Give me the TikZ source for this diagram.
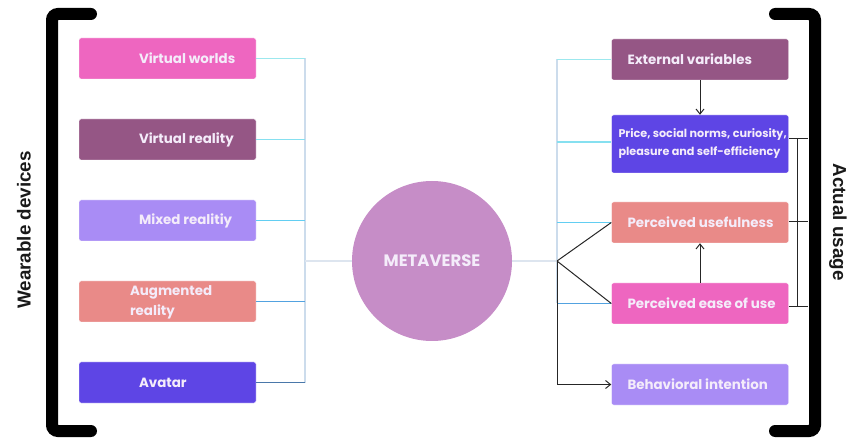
\documentclass[tikz,border=0pt]{standalone}
\usepackage{fontspec}
\setmainfont{Liberation Sans}
\newfontfamily\boxfont{Poppins}
\usetikzlibrary{arrows.meta}
\definecolor{cpink}{HTML}{EE66C0}
\definecolor{cmauve}{HTML}{955685}
\definecolor{clav}{HTML}{A98CF5}
\definecolor{csalmon}{HTML}{E98A88}
\definecolor{cindigo}{HTML}{5E45E5}
\definecolor{ccircle}{HTML}{C68DC7}
\definecolor{ctext}{HTML}{F4ECFA}
\definecolor{lc1}{HTML}{9CE8EE}
\definecolor{lc2}{HTML}{86E0F0}
\definecolor{lc3}{HTML}{62CEF2}
\definecolor{lc4}{HTML}{52A2E0}
\definecolor{lc5}{HTML}{4A78AA}
\definecolor{lvert}{HTML}{CCDCEC}
\definecolor{lhor}{HTML}{DDE5EF}
\tikzset{
  box/.style={draw=white, line width=0.4pt, rounded corners=2pt, minimum width=177pt, minimum height=41pt, inner sep=0pt},
  txt/.style={anchor=west, text=ctext, font=\boxfont\bfseries\fontsize{13.4}{20}\selectfont, inner sep=0pt, align=left},
  bracket/.style={line width=12pt, rounded corners=6pt, line cap=round},
  conn/.style={line width=1.8pt},
  blk/.style={draw=black!85, line width=1pt},
  arr/.style={blk, -{Straight Barb[length=5pt,width=8pt]}},
  side/.style={font=\bfseries\fontsize{18.8}{22}\selectfont, text=black!90}
}
\begin{document}
\begin{tikzpicture}[x=1pt,y=-1pt]
\useasboundingbox (0,0) rectangle (857,438);
% brackets
\draw[bracket] (91,14) -- (52,14) -- (52,431) -- (91,431);
\draw[bracket] (775,14) -- (815,14) -- (815,431) -- (775,431);
\node[side, rotate=90] (lw) at (24,230) {Wearable devices};
\node[side, rotate=-90] (la) at (838,222) {Actual usage};
% left boxes
\node[box, fill=cpink]   (vw) at (167.5,58.5)  {};
\node[box, fill=cmauve]  (vr) at (167.5,139.5) {};
\node[box, fill=clav]    (mr) at (167.5,220.5) {};
\node[box, fill=csalmon] (ar) at (167.5,301.5) {};
\node[box, fill=cindigo] (av) at (167.5,382.5) {};
\node[txt] at ([xshift=60pt]vw.west) {Virtual worlds};
\node[txt] at ([xshift=60pt]vr.west) {Virtual reality};
\node[txt] at ([xshift=60pt]mr.west) {Mixed realitiy};
\node[txt] at ([xshift=51pt,yshift=-1pt]ar.west) {Augmented\\reality};
\node[txt] at ([xshift=60pt]av.west) {Avatar};
% circle
\node[circle, fill=ccircle, minimum size=160pt, inner sep=0pt] (mv) at (432,261) {};
\node[text=ctext, font=\boxfont\bfseries\fontsize{16.5}{18}\selectfont] at (mv.center) {METAVERSE};
% left connectors
\coordinate (jl) at (305,261);
\draw[lvert, conn] (jl |- vw.east) -- (jl |- av.east);
\draw[lhor, conn] (jl) -- (mv.west);
\draw[lc1, conn] (vw.east) -- (jl |- vw.east);
\draw[lc2, conn] (vr.east) -- (jl |- vr.east);
\draw[lc3, conn] (mr.east) -- (jl |- mr.east);
\draw[lc4, conn] (ar.east) -- (jl |- ar.east);
\draw[lc5, conn] (av.east) -- (jl |- av.east);
% right boxes
\node[box, fill=cmauve]  (ev) at (700,59.5)  {};
\node[box, fill=cindigo, minimum height=58pt] (pr) at (700,144) {};
\node[box, fill=csalmon] (pu) at (700,222.5) {};
\node[box, fill=cpink]   (pe) at (700,303.5) {};
\node[box, fill=clav]    (bi) at (700,384.5) {};
\node[txt] at ([xshift=16pt]ev.west) {External variables};
\node[txt, font=\boxfont\bfseries\fontsize{11.2}{18}\selectfont] at ([xshift=7pt]pr.west) {Price, social norms, curiosity,\\pleasure and self-efficiency};
\node[txt] at ([xshift=16pt]pu.west) {Perceived usefulness};
\node[txt] at ([xshift=16pt]pe.west) {Perceived ease of use};
\node[txt] at ([xshift=16pt]bi.west) {Behavioral intention};
% right connectors
\coordinate (jr) at (557,261);
\coordinate (prl) at (611,142);
\draw[lvert, conn] (jr |- ev.west) -- (jr |- pe.west);
\draw[lhor, conn] (mv.east) -- (jr);
\draw[lc1, conn] (jr |- ev.west) -- (ev.west);
\draw[lc2, conn] (jr |- prl) -- (prl);
\draw[lc3, conn] (jr |- pu.west) -- (pu.west);
\draw[lc4, conn] (jr |- pe.west) -- (pe.west);
% black connectors
\draw[blk] (jr) -- (pu.west);
\draw[blk] (jr) -- (pe.west);
\draw[arr] (jr) |- (bi.west);
\draw[arr] (ev.south) -- (pr.north);
\draw[arr] (pe.north) -- (pu.south);
% thin bracket
\coordinate (t1) at (797,139);
\coordinate (t2) at (797,306);
\coordinate (b1) at (808,139);
\coordinate (b2) at (808,222);
\coordinate (b3) at (808,307);
\draw[blk] (pr.east |- b1) -- (b1);
\draw[blk] (pu.east |- b2) -- (b2);
\draw[blk] (pe.east |- b3) -- (b3);
\draw[blk] (t1) -- (t2);
\end{tikzpicture}
\end{document}
